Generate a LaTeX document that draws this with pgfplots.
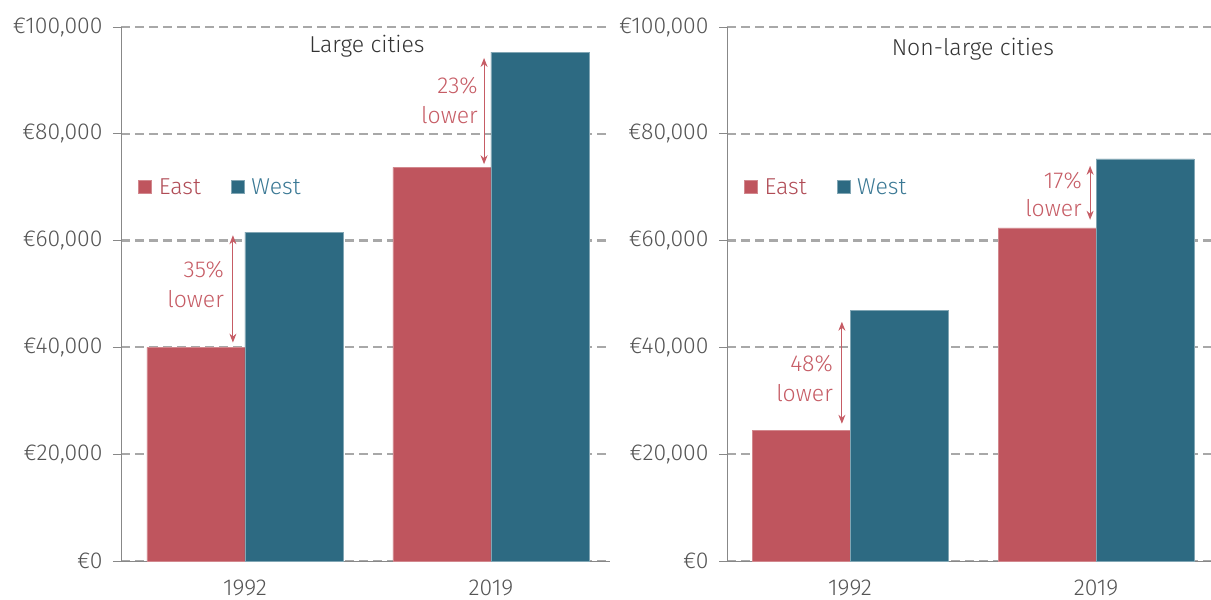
\documentclass[border=0pt]{standalone}
\usepackage{pgfplots}
\pgfplotsset{compat=1.18}
\usepackage{fontspec}
\setmainfont{Fira Sans}[UprightFont=* Light]
\usetikzlibrary{arrows.meta}
\definecolor{eastc}{HTML}{BF555E}
\definecolor{westc}{HTML}{2D6A82}
\definecolor{eastt}{HTML}{B04C56}
\definecolor{westt}{HTML}{3A7894}
\definecolor{annot}{HTML}{C65C65}
\definecolor{tickc}{HTML}{555555}
\definecolor{titlec}{HTML}{333333}
\definecolor{gridc}{HTML}{A8A8A8}
\definecolor{axc}{HTML}{888888}

\pgfplotstableread{
x east west
0 40000 61600
1 73700 95300
}\large
\pgfplotstableread{
x east west
0 24500 47000
1 62400 75300
}\nonlarge

\newcommand{\fs}{\fontsize{23}{27}\selectfont}
\pgfplotsset{
 mystyle/.style={
  scale only axis, height=534pt,
  ybar=0pt, bar width=98pt,
  ymin=0, ymax=100000,
  scaled y ticks=false,
  axis x line=bottom, axis y line=left,
  axis line style={-, draw=axc, line width=0.8pt},
  ytick={0,20000,40000,60000,80000,100000},
  yticklabels={€0,{€20,000},{€40,000},{€60,000},{€80,000},{€100,000}},
  ymajorgrids,
  grid style={draw=gridc, line width=2.2pt, dash pattern=on 9pt off 5pt},
  major grid style={draw=gridc, line width=2.2pt, dash pattern=on 9pt off 5pt},
  tick align=outside, major tick length=8pt,
  ytick style={draw=axc, line width=0.8pt},
  xtick={0,1}, xticklabels={1992,2019},
  xtick style={draw=none},
  ticklabel style={font=\fs, text=tickc},
  yticklabel style={xshift=-7pt},
  xticklabel style={yshift=-7pt},
  legend style={draw=none, fill=none, inner sep=0pt, anchor=west,
    font=\fs,
    /tikz/every odd column/.append style={column sep=5pt},
    /tikz/every even column/.append style={column sep=28pt}},
  legend columns=2,
  legend image code/.code={\fill (0pt,-6.5pt) rectangle (13pt,6.5pt);},
  clip=false,
 }
}

\begin{document}
\begin{tikzpicture}
\useasboundingbox (0,0) rectangle (1211pt,600pt);
% Left panel
\begin{axis}[mystyle, width=489pt, at={(121pt,39pt)}, anchor=south west,
  xmin=-0.504, xmax=1.484,
  legend style={at={(axis description cs:0.035,0.70)}}]
\addplot[fill=eastc, draw=eastc!70!white, line width=0.5pt] table[x=x, y=east] {\large};
\addlegendentry{\textcolor{eastt}{East}}
\addplot[fill=westc, draw=westc!60!white, line width=0.5pt] table[x=x, y=west] {\large};
\addlegendentry{\textcolor{westt}{West}}
\node[font=\fs, text=titlec] at (axis description cs:0.503,0.964) {Large cities};
\draw[annot, line width=1.1pt, {Stealth[length=9pt,width=7pt]}-{Stealth[length=9pt,width=7pt]}] (axis cs:-0.049,40900) -- (axis cs:-0.049,61000);
\node[anchor=east, align=right, text=annot, font=\fontsize{23}{30}\selectfont, inner sep=0pt] at (axis cs:-0.085,51700) {35\%\\lower};
\draw[annot, line width=1.1pt, {Stealth[length=9pt,width=7pt]}-{Stealth[length=9pt,width=7pt]}] (axis cs:0.972,74300) -- (axis cs:0.972,94200);
\node[anchor=east, align=right, text=annot, font=\fontsize{23}{30}\selectfont, inner sep=0pt] at (axis cs:0.947,86300) {23\%\\lower};
\end{axis}
% Right panel
\begin{axis}[mystyle, width=484pt, at={(727pt,39pt)}, anchor=south west,
  xmin=-0.5, xmax=1.4675,
  legend style={at={(axis description cs:0.035,0.70)}}]
\addplot[fill=eastc, draw=eastc!70!white, line width=0.5pt] table[x=x, y=east] {\nonlarge};
\addlegendentry{\textcolor{eastt}{East}}
\addplot[fill=westc, draw=westc!60!white, line width=0.5pt] table[x=x, y=west] {\nonlarge};
\addlegendentry{\textcolor{westt}{West}}
\node[font=\fs, text=titlec] at (axis description cs:0.508,0.959) {Non-large cities};
\draw[annot, line width=1.1pt, {Stealth[length=9pt,width=7pt]}-{Stealth[length=9pt,width=7pt]}] (axis cs:-0.033,25700) -- (axis cs:-0.033,44800);
\node[anchor=east, align=right, text=annot, font=\fontsize{23}{30}\selectfont, inner sep=0pt] at (axis cs:-0.069,34100) {48\%\\lower};
\draw[annot, line width=1.1pt, {Stealth[length=9pt,width=7pt]}-{Stealth[length=9pt,width=7pt]}] (axis cs:0.976,63900) -- (axis cs:0.976,74000);
\node[anchor=east, align=right, text=annot, font=\fontsize{23}{28}\selectfont, inner sep=0pt] at (axis cs:0.943,68700) {17\%\\lower};
\end{axis}
\end{tikzpicture}
\end{document}
